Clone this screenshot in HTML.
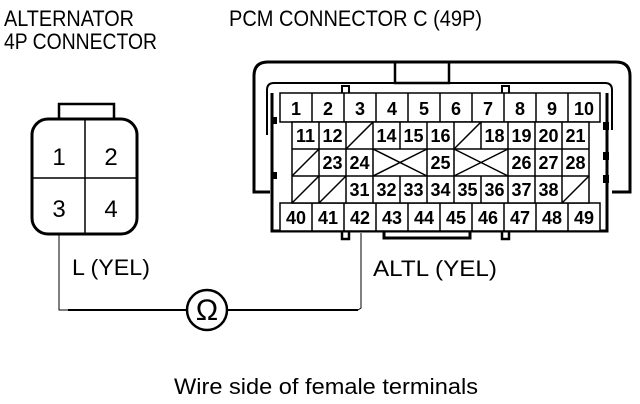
<!DOCTYPE html>
<html><head><meta charset="utf-8"><style>
html,body{margin:0;padding:0;background:#fff;}
svg{display:block;}
text{font-family:"Liberation Sans",sans-serif;fill:#000;}
.n{font-size:18px;text-anchor:middle;font-weight:bold;}
</style></head><body>
<svg width="640" height="404" viewBox="0 0 640 404" xmlns="http://www.w3.org/2000/svg">
<text x="4" y="26" font-size="22" textLength="130" lengthAdjust="spacingAndGlyphs">ALTERNATOR</text>
<text x="4" y="49" font-size="22" textLength="153" lengthAdjust="spacingAndGlyphs">4P CONNECTOR</text>
<text x="229" y="26" font-size="22" textLength="253" lengthAdjust="spacingAndGlyphs">PCM CONNECTOR C (49P)</text>

<rect x="59" y="104" width="55" height="15" fill="none" stroke="#000" stroke-width="2.5"/>
<rect x="32" y="119" width="105" height="115" rx="16" fill="none" stroke="#000" stroke-width="3"/>
<line x1="85" y1="119" x2="85" y2="234" stroke="#000" stroke-width="1.5"/>
<line x1="32" y1="178" x2="137" y2="178" stroke="#000" stroke-width="1.5"/>
<text x="59" y="165" font-size="24" text-anchor="middle">1</text>
<text x="111" y="165" font-size="24" text-anchor="middle">2</text>
<text x="59" y="217" font-size="24" text-anchor="middle">3</text>
<text x="111" y="217" font-size="24" text-anchor="middle">4</text>

<polyline points="59,234 59,310 187,310" fill="none" stroke="#000" stroke-width="1"/>
<line x1="68" y1="310" x2="187" y2="310" stroke="#000" stroke-width="2"/>
<line x1="227" y1="310" x2="358" y2="310" stroke="#000" stroke-width="2"/>
<polyline points="358,310 361,308 361,233" fill="none" stroke="#000" stroke-width="1"/>
<circle cx="207" cy="310" r="20" fill="none" stroke="#000" stroke-width="2.5"/>
<text x="207" y="320" font-size="30" text-anchor="middle">Ω</text>
<text x="72" y="275" font-size="22" textLength="78" lengthAdjust="spacingAndGlyphs">L (YEL)</text>
<text x="373" y="276" font-size="22" textLength="124" lengthAdjust="spacingAndGlyphs">ALTL (YEL)</text>
<text x="174" y="394" font-size="22" textLength="304" lengthAdjust="spacingAndGlyphs">Wire side of female terminals</text>

<path d="M270,192 L254,192 L254,76 Q254,62 268,62 L616,62 Q630,62 630,76 L630,192 L612,192" fill="none" stroke="#000" stroke-width="3"/>
<rect x="395" y="62" width="54" height="21" fill="none" stroke="#000" stroke-width="2.5"/>
<path d="M267,135 L267,90 Q267,83 274,83 L605,83 Q612,83 612,90 L612,130" fill="none" stroke="#000" stroke-width="2"/>
<path d="M272,93 L272,231 L607,231 L607,93" fill="none" stroke="#000" stroke-width="3"/>
<rect x="342" y="86" width="7" height="8" fill="none" stroke="#000" stroke-width="2"/>
<rect x="502" y="86" width="7" height="8" fill="none" stroke="#000" stroke-width="2"/>
<rect x="342" y="231" width="7" height="8" fill="none" stroke="#000" stroke-width="2.5"/>
<rect x="502" y="231" width="7" height="8" fill="none" stroke="#000" stroke-width="2.5"/>
<path d="M384,231 L384,238 L470,238 L470,231" fill="none" stroke="#000" stroke-width="3"/>
<rect x="271" y="117" width="6" height="7" fill="#000"/>
<rect x="271" y="172" width="6" height="7" fill="#000"/>
<rect x="603" y="122" width="6" height="8" fill="#000"/>
<rect x="603" y="152" width="6" height="8" fill="#000"/>
<rect x="603" y="175" width="6" height="8" fill="#000"/>

<g fill="#fff" stroke="#000" stroke-width="1.5">
<rect x="280" y="93" width="320" height="29"/>
<rect x="280" y="203" width="320" height="28"/>
<rect x="292" y="122" width="297" height="81"/>
</g>
<g stroke="#000" stroke-width="1.5">
<line x1="312" y1="93" x2="312" y2="122"/><line x1="344" y1="93" x2="344" y2="122"/><line x1="376" y1="93" x2="376" y2="122"/><line x1="408" y1="93" x2="408" y2="122"/><line x1="440" y1="93" x2="440" y2="122"/><line x1="472" y1="93" x2="472" y2="122"/><line x1="504" y1="93" x2="504" y2="122"/><line x1="536" y1="93" x2="536" y2="122"/><line x1="568" y1="93" x2="568" y2="122"/>
<line x1="312" y1="203" x2="312" y2="231"/><line x1="344" y1="203" x2="344" y2="231"/><line x1="376" y1="203" x2="376" y2="231"/><line x1="408" y1="203" x2="408" y2="231"/><line x1="440" y1="203" x2="440" y2="231"/><line x1="472" y1="203" x2="472" y2="231"/><line x1="504" y1="203" x2="504" y2="231"/><line x1="536" y1="203" x2="536" y2="231"/><line x1="568" y1="203" x2="568" y2="231"/>
<line x1="292" y1="149" x2="589" y2="149"/><line x1="292" y1="176" x2="589" y2="176"/>
<line x1="319" y1="122" x2="319" y2="149"/><line x1="346" y1="122" x2="346" y2="149"/><line x1="373" y1="122" x2="373" y2="149"/><line x1="400" y1="122" x2="400" y2="149"/><line x1="427" y1="122" x2="427" y2="149"/><line x1="454" y1="122" x2="454" y2="149"/><line x1="481" y1="122" x2="481" y2="149"/><line x1="508" y1="122" x2="508" y2="149"/><line x1="535" y1="122" x2="535" y2="149"/><line x1="562" y1="122" x2="562" y2="149"/>
<line x1="319" y1="149" x2="319" y2="176"/><line x1="346" y1="149" x2="346" y2="176"/><line x1="373" y1="149" x2="373" y2="176"/><line x1="427" y1="149" x2="427" y2="176"/><line x1="454" y1="149" x2="454" y2="176"/><line x1="508" y1="149" x2="508" y2="176"/><line x1="535" y1="149" x2="535" y2="176"/><line x1="562" y1="149" x2="562" y2="176"/>
<line x1="319" y1="176" x2="319" y2="203"/><line x1="346" y1="176" x2="346" y2="203"/><line x1="373" y1="176" x2="373" y2="203"/><line x1="400" y1="176" x2="400" y2="203"/><line x1="427" y1="176" x2="427" y2="203"/><line x1="454" y1="176" x2="454" y2="203"/><line x1="481" y1="176" x2="481" y2="203"/><line x1="508" y1="176" x2="508" y2="203"/><line x1="535" y1="176" x2="535" y2="203"/><line x1="562" y1="176" x2="562" y2="203"/>
<line x1="346" y1="149" x2="373" y2="122"/><line x1="454" y1="149" x2="481" y2="122"/>
<line x1="292" y1="176" x2="319" y2="149"/>
<line x1="373" y1="149" x2="427" y2="176"/><line x1="373" y1="176" x2="427" y2="149"/>
<line x1="454" y1="149" x2="508" y2="176"/><line x1="454" y1="176" x2="508" y2="149"/>
<line x1="292" y1="203" x2="319" y2="176"/><line x1="319" y1="203" x2="346" y2="176"/><line x1="562" y1="203" x2="589" y2="176"/>
</g>
<g>
<text x="296" y="115" class="n">1</text><text x="328" y="115" class="n">2</text><text x="360" y="115" class="n">3</text><text x="392" y="115" class="n">4</text><text x="424" y="115" class="n">5</text><text x="456" y="115" class="n">6</text><text x="488" y="115" class="n">7</text><text x="520" y="115" class="n">8</text><text x="552" y="115" class="n">9</text><text x="584" y="115" class="n">10</text>
<text x="305.5" y="142" class="n">11</text><text x="332.5" y="142" class="n">12</text><text x="386.5" y="142" class="n">14</text><text x="413.5" y="142" class="n">15</text><text x="440.5" y="142" class="n">16</text><text x="494.5" y="142" class="n">18</text><text x="521.5" y="142" class="n">19</text><text x="548.5" y="142" class="n">20</text><text x="575.5" y="142" class="n">21</text>
<text x="332.5" y="169" class="n">23</text><text x="359.5" y="169" class="n">24</text><text x="440.5" y="169" class="n">25</text><text x="521.5" y="169" class="n">26</text><text x="548.5" y="169" class="n">27</text><text x="575.5" y="169" class="n">28</text>
<text x="359.5" y="196" class="n">31</text><text x="386.5" y="196" class="n">32</text><text x="413.5" y="196" class="n">33</text><text x="440.5" y="196" class="n">34</text><text x="467.5" y="196" class="n">35</text><text x="494.5" y="196" class="n">36</text><text x="521.5" y="196" class="n">37</text><text x="548.5" y="196" class="n">38</text>
<text x="296" y="224" class="n">40</text><text x="328" y="224" class="n">41</text><text x="360" y="224" class="n">42</text><text x="392" y="224" class="n">43</text><text x="424" y="224" class="n">44</text><text x="456" y="224" class="n">45</text><text x="488" y="224" class="n">46</text><text x="520" y="224" class="n">47</text><text x="552" y="224" class="n">48</text><text x="584" y="224" class="n">49</text>
</g>
</svg>
</body></html>
